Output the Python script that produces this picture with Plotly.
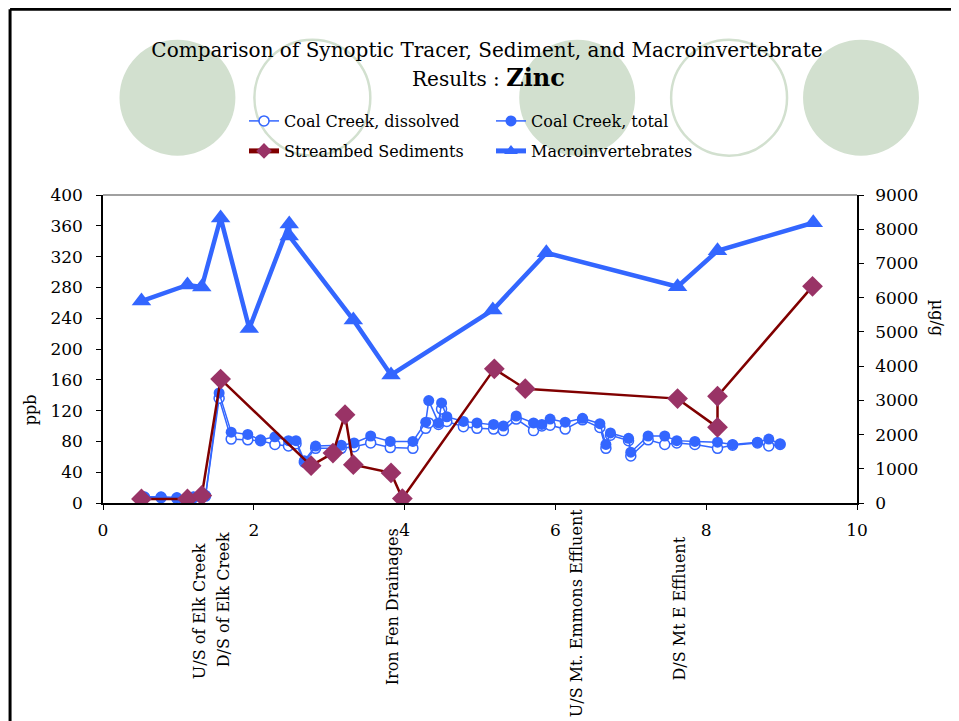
import plotly.graph_objects as go

# ---------------- data ----------------
cc_x = [0.55, 0.77, 0.98, 1.20, 1.36, 1.54, 1.70, 1.92, 2.09, 2.28, 2.46, 2.56, 2.67, 2.82, 3.16,
        3.33, 3.55, 3.81, 4.11, 4.28, 4.32, 4.45, 4.49, 4.56, 4.78, 4.96, 5.18, 5.31, 5.48, 5.71,
        5.82, 5.93, 6.13, 6.36, 6.59, 6.67, 6.73, 6.97, 7.00, 7.23, 7.45, 7.61, 7.85, 8.15, 8.35,
        8.68, 8.83, 8.98]
cc_total = [8, 8, 7, 8, 10, 143, 92, 89, 82, 86, 81, 81, 55, 74, 75,
            78, 87, 80, 80, 105, 133, 104, 130, 112, 106, 104, 102, 100, 113, 104,
            102, 109, 105, 110, 103, 76, 91, 84, 66, 87, 87, 81, 80, 79, 76,
            79, 83, 77]
cc_dissolved = [7, 7, 6, 7, 9, 136, 83, 82, 81, 76, 74, 77, 53, 71, 71,
                73, 78, 72, 71, 97, 104, 102, 122, 106, 99, 97, 96, 94, 109, 94,
                100, 101, 96, 108, 98, 71, 88, 81, 61, 82, 76, 78, 76, 71, 75,
                78, 74, 76]

sed_x = [0.51, 1.12, 1.31, 1.56, 2.76, 3.05, 3.21, 3.32, 3.82, 3.97, 5.19, 5.60, 7.62, 8.15, 8.15, 9.41]
sed_v = [120, 120, 220, 3620, 1090, 1460, 2580, 1120, 880, 130, 3920, 3340, 3050, 2210, 3120, 6330]

mac_x = [0.51, 1.12, 1.31, 1.56, 1.94, 2.47, 2.47, 3.32, 3.82, 5.17, 5.88, 7.62, 8.15, 9.42]
mac_v = [5900, 6370, 6310, 8330, 5100, 8150, 7800, 5350, 3740, 5640, 7310, 6320, 7370, 8190]

site_labels = ["U/S of Elk Creek", "D/S of Elk Creek", "Iron Fen Drainages",
               "U/S Mt. Emmons Effluent", "D/S Mt E Effluent"]
site_x = [1.28, 1.60, 3.84, 6.28, 7.65]
site_ypx = [612, 600, 607, 614, 609]

left_ticks = list(range(0, 401, 40))
right_ticks = list(range(0, 9001, 1000))
x_ticks = [0, 2, 4, 6, 8, 10]

# ---------------- geometry helpers (screen pixels) ----------------
OFF = 8  # page margin of the browser
SW, SH = 959, 721
W, H = SW - OFF, SH - OFF
PL, PR, PT, PB = 102.5, 857.0, 195.3, 503.3  # plot area, screen pixels


def px(x):
    return (x - PL) / (PR - PL)


def py(y):
    return (PB - y) / (PB - PT)


FONT = "DejaVu Serif"
BLUE = "#3366FF"
DARKRED = "#800000"
PLUM = "#993366"
SAGE = "#D2E0CF"

fig = go.Figure()

fig.add_trace(go.Scatter(
    x=cc_x, y=cc_dissolved, name="Coal Creek, dissolved", mode="lines+markers",
    line=dict(color=BLUE, width=1.5),
    marker=dict(symbol="circle", size=10, color="white", line=dict(color=BLUE, width=1.5)),
    legend="legend"))
fig.add_trace(go.Scatter(
    x=cc_x, y=cc_total, name="Coal Creek, total", mode="lines+markers",
    line=dict(color=BLUE, width=1.5),
    marker=dict(symbol="circle", size=11, color=BLUE),
    legend="legend"))
fig.add_trace(go.Scatter(
    x=sed_x, y=sed_v, name="Streambed Sediments", mode="lines+markers", yaxis="y2",
    line=dict(color=DARKRED, width=2.5),
    marker=dict(symbol="diamond", size=16, color=PLUM),
    legend="legend2"))
fig.add_trace(go.Scatter(
    x=mac_x, y=mac_v, name="Macroinvertebrates", mode="lines+markers", yaxis="y2",
    line=dict(color=BLUE, width=4.5),
    marker=dict(symbol="triangle-up", size=17, color=BLUE),
    legend="legend2"))

shapes = []
# decorative circles
for cx, filled in [(177, True), (312, False), (577, True), (729, False), (861, True)]:
    r = 58
    shapes.append(dict(type="circle", xref="paper", yref="paper",
                       x0=px(cx - r), x1=px(cx + r), y0=py(98 + r), y1=py(98 - r),
                       fillcolor=SAGE if filled else "rgba(0,0,0,0)",
                       line=dict(color=SAGE, width=0 if filled else 2.5), layer="below"))
# slide frame
shapes.append(dict(type="line", xref="paper", yref="paper", x0=px(9.5), x1=px(970), y0=py(9.5), y1=py(9.5),
                   line=dict(color="black", width=3)))
shapes.append(dict(type="line", xref="paper", yref="paper", x0=px(9.5), x1=px(9.5), y0=py(9.5), y1=py(730),
                   line=dict(color="black", width=3)))
# plot area top edge
shapes.append(dict(type="line", xref="paper", yref="paper", x0=0, x1=1, y0=1, y1=1,
                   line=dict(color="#808080", width=1.5)))

annotations = []
for lab, sx, sy in zip(site_labels, site_x, site_ypx):
    annotations.append(dict(text=lab, x=sx, xref="x", y=py(sy), yref="paper", showarrow=False,
                            textangle=-90, font=dict(family=FONT, size=16, color="black"),
                            xanchor="center", yanchor="middle"))
annotations.append(dict(text="ppb", x=px(30), y=py(410), xref="paper", yref="paper", showarrow=False,
                        textangle=-90, xanchor="center", yanchor="middle",
                        font=dict(family=FONT, size=16, color="black")))
annotations.append(dict(text="µg/g", x=px(937), y=py(318), xref="paper", yref="paper", showarrow=False,
                        textangle=90, xanchor="center", yanchor="middle",
                        font=dict(family=FONT, size=16, color="black")))
annotations.append(dict(text="Results : <b><span style='font-size:24px'>Zinc</span></b>",
                        x=px(488), y=py(78), xref="paper", yref="paper", showarrow=False,
                        xanchor="center", yanchor="middle",
                        font=dict(family=FONT, size=20, color="black")))

fig.update_layout(
    width=W, height=H,
    margin=dict(l=PL - OFF, r=SW - PR, t=PT - OFF, b=SH - PB),
    paper_bgcolor="white", plot_bgcolor="rgba(0,0,0,0)",
    font=dict(family=FONT, color="black"),
    title=dict(text="Comparison of Synoptic Tracer, Sediment, and Macroinvertebrate",
               x=(487 - OFF) / W, xref="container", xanchor="center",
               y=1 - (50 - OFF) / H, yref="container", yanchor="middle",
               font=dict(family=FONT, size=20, color="black")),
    xaxis=dict(range=[0, 10], tickvals=x_ticks, ticktext=[str(v) for v in x_ticks],
               showline=True, linecolor="black", linewidth=1.5, ticks="outside", ticklen=5,
               tickcolor="black", showgrid=False, zeroline=False, ticklabelstandoff=6,
               tickfont=dict(family=FONT, size=17)),
    yaxis=dict(range=[0, 400], tickvals=left_ticks, showline=True, linecolor="black", linewidth=1.5,
               ticks="outside", ticklen=5, tickcolor="black", showgrid=False, zeroline=False,
               ticklabelstandoff=10, tickfont=dict(family=FONT, size=17)),
    yaxis2=dict(range=[0, 9000], tickvals=right_ticks, overlaying="y", side="right",
                showline=True, linecolor="black", linewidth=1.5, ticks="outside", ticklen=5,
                tickcolor="black", showgrid=False, zeroline=False, ticklabelstandoff=8,
                tickfont=dict(family=FONT, size=17)),
    legend=dict(orientation="h", xref="container", yref="container", x=(244 - OFF) / W, xanchor="left",
                y=1 - (121 - OFF) / H, yanchor="middle", entrywidth=202, entrywidthmode="pixels",
                bgcolor="rgba(0,0,0,0)", font=dict(family=FONT, size=16, color="black"),
                traceorder="normal", itemsizing="trace"),
    legend2=dict(orientation="h", xref="container", yref="container", x=(244 - OFF) / W, xanchor="left",
                 y=1 - (151 - OFF) / H, yanchor="middle", entrywidth=202, entrywidthmode="pixels",
                 bgcolor="rgba(0,0,0,0)", font=dict(family=FONT, size=16, color="black"),
                 traceorder="normal", itemsizing="constant"),
    shapes=shapes, annotations=annotations,
)

fig.write_html("out.html")
